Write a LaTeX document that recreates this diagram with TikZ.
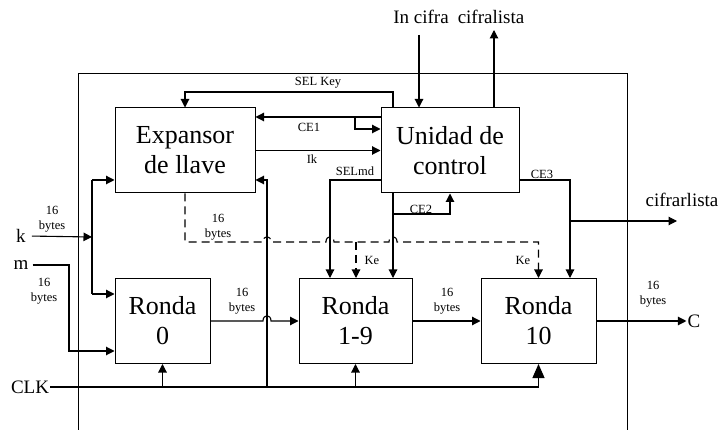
\documentclass[tikz,border=0pt]{standalone}
\usepackage{fontspec}
\setmainfont{Liberation Serif}
\usetikzlibrary{arrows.meta}

\tikzset{
  blk/.style={draw,line width=1pt,align=center,inner sep=0pt,
    font=\fontsize{26}{30}\selectfont},
  lbl/.style={inner sep=1pt,font=\fontsize{19}{22}\selectfont},
  smalltxt/.style={inner sep=0pt,align=center,font=\fontsize{12.5}{15.5}\selectfont},
  wire/.style={line width=1.1pt},
  sig/.style={line width=1.1pt,-{Triangle[length=8.5pt,width=8.5pt]}},
  bigsig/.style={line width=1.1pt,-{Triangle[length=14pt,width=12pt]}},
  keyline/.style={line width=1.1pt,dash pattern=on 8pt off 5pt},
}

\begin{document}
\begin{tikzpicture}[x=1pt,y=-1pt,line join=miter]
    \useasboundingbox (0,0) rectangle (723,430);

    % outer frame
    \draw[line width=0.9pt] (78,430) -- (78,73) -- (627,73) -- (627,430);

    % blocks
    \node[blk,minimum width=140pt,minimum height=85pt] (ex) at (185,150.5) {Expansor\\de llave};
    \node[blk,minimum width=138pt,minimum height=85pt] (uc) at (450,150.5) {Unidad de\\control};
    \node[blk,minimum width=95pt,minimum height=85pt] (r0) at (162.5,321) {Ronda\\0};
    \node[blk,minimum width=113pt,minimum height=85pt] (r19) at (355.5,321) {Ronda\\1-9};
    \node[blk,minimum width=115pt,minimum height=85pt] (r10) at (538.5,321) {Ronda\\10};

    % outer labels
    \node[lbl] (k) at (21,236) {k};
    \node[lbl] (m) at (21,265) {m};
    \node[lbl] (clk) at (30,387) {CLK};
    \node[lbl] (c) at (694,321) {C};
    \node[lbl] (incifra) at (421,17) {In cifra};
    \node[lbl] (cifralista) at (491,17) {cifralista};
    \node[lbl] (cifrarlista) at (682,200) {cifrarlista};

    % junctions
    \coordinate (kj) at (92,237);
    \coordinate (kt) at (92,180);
    \coordinate (kb) at (92,294);
    \coordinate (mj) at (69,351);
    \coordinate (inc) at (419,35);
    \coordinate (cfl) at (494,30);
    \coordinate (selk) at (393,92);
    \coordinate (ce1) at (355,117);
    \coordinate (ce1b) at (355,129);
    \coordinate (selmd) at (330,180);
    \coordinate (ce2a) at (393,214);
    \coordinate (ce2b) at (450,214);
    \coordinate (ce3) at (570,180);
    \coordinate (cfr) at (677,221);
    \coordinate (ckjoin) at (267,387);
    \coordinate (ckup) at (267,180);
    \coordinate (ke1) at (356,242);

    % inputs
    \draw[sig,shorten <=5pt] (k.east) -- (kj);
    \draw[wire] (kt) -- (kb);
    \draw[sig] (kt) -- (kt -| ex.west);
    \draw[sig] (kb) -- (kb -| r0.west);
    \draw[sig,shorten <=3pt] (m.east) -| (mj) -- (mj -| r0.west);

    % data path
    \draw[sig] (r0.east) -- (263,321) .. controls (263,314) and (271,314) .. (271,321) -- (r19.west);
    \draw[sig] (r19.east) -- (r10.west);
    \draw[sig] (r10.east) -- (c.west);

    % clock
    \draw[bigsig] (clk.east) -| (r10.south);
    \draw[sig] (r0.south |- ckjoin) -- (r0.south);
    \draw[sig] (r19.south |- ckjoin) -- (r19.south);
    \draw[sig] (ckjoin) -- (ckup) -- (ckup -| ex.east);

    % control signals
    \draw[sig] (inc) -- (inc |- uc.north);
    \draw[sig] (cfl |- uc.north) -- (cfl);
    \draw[sig] (selk |- uc.north) -- (selk) -| (ex.north);
    \draw[sig] (ce1 -| uc.west) -- (ce1 -| ex.east);
    \draw[sig] (ce1) -- (ce1b) -- (ce1b -| uc.west);
    \draw[sig] (ex.east) -- (uc.west);
    \draw[sig] (selmd -| uc.west) -- (selmd) -- (selmd |- r19.north);
    \draw[sig] (ce2a |- uc.south) -- (ce2a |- r19.north);
    \draw[sig] (ce2a) -- (ce2b) -- (ce2b |- uc.south);
    \draw[sig] (ce3 -| uc.east) -- (ce3) -- (ce3 |- r10.north);
    \draw[sig] (cfr -| ce3) -- (cfr);

    % round keys (dashed)
    \draw[keyline,-{Triangle[length=8.5pt,width=8.5pt]}] (ex.south) -- (185,242) -- (263,242)
        .. controls (263,235) and (271,235) .. (271,242) -- (326,242)
        .. controls (326,235) and (334,235) .. (334,242) -- (389,242)
        .. controls (389,235) and (397,235) .. (397,242) -- (538.5,242) -- (r10.north);
    \draw[keyline,-{Triangle[length=8.5pt,width=8.5pt]}] (ke1) -- (ke1 |- r19.north);

    % signal names
    \node[smalltxt] at (318,83) {SEL Key};
    \node[smalltxt] at (309,127) {CE1};
    \node[smalltxt] at (312,159) {Ik};
    \node[smalltxt] at (355,171) {SELmd};
    \node[smalltxt] at (421,209) {CE2};
    \node[smalltxt] at (542,174) {CE3};
    \node[smalltxt] at (372,260) {Ke};
    \node[smalltxt] at (523,260) {Ke};
    \node[smalltxt] at (52,219) {16\\bytes};
    \node[smalltxt] at (44,291) {16\\bytes};
    \node[smalltxt] at (218,227) {16\\bytes};
    \node[smalltxt] at (242,301) {16\\bytes};
    \node[smalltxt] at (447,301) {16\\bytes};
    \node[smalltxt] at (653,294) {16\\bytes};
\end{tikzpicture}
\end{document}
